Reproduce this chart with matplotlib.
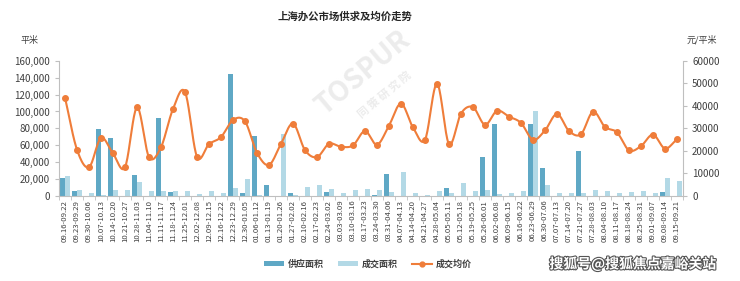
import numpy as np
import matplotlib
matplotlib.use("Agg")
import matplotlib.pyplot as plt
import matplotlib.patheffects as pe
from matplotlib.ticker import FuncFormatter, FixedLocator
from matplotlib.lines import Line2D
from matplotlib.patches import Patch

plt.rcParams['font.family'] = ['Noto Sans CJK SC', 'DejaVu Sans']

# ── Data ─────────────────────────────────────────────────────
weeks = [
    "09.16-09.22", "09.23-09.29", "09.30-10.06", "10.07-10.13", "10.14-10.20",
    "10.21-10.27", "10.28-11.03", "11.04-11.10", "11.11-11.17", "11.18-11.24",
    "11.25-12.01", "12.02-12.08", "12.09-12.15", "12.16-12.22", "12.23-12.29",
    "12.30-01.05", "01.06-01.12", "01.13-01.19", "01.20-01.26", "01.27-02.02",
    "02.10-02.16", "02.17-02.23", "02.24-03.02", "03.03-03.09", "03.10-03.16",
    "03.17-03.23", "03.24-03.30", "03.31-04.06", "04.07-04.13", "04.14-04.20",
    "04.21-04.27", "04.28-05.04", "05.05-05.11", "05.12-05.18", "05.19-05.25",
    "05.26-06.01", "06.02-06.08", "06.09-06.15", "06.16-06.22", "06.23-06.29",
    "06.30-07.06", "07.07-07.13", "07.14-07.20", "07.21-07.27", "07.28-08.03",
    "08.04-08.10", "08.11-08.17", "08.18-08.24", "08.25-08.31", "09.01-09.07",
    "09.08-09.14", "09.15-09.21",
]
supply = [
    20800, 5000, 0, 79000, 69000, 0, 24200, 0, 92000, 4200,
    0, 0, 0, 0, 144500, 3500, 71000, 12400, 0, 2800,
    0, 0, 4400, 0, 0, 0, 1000, 25900, 0, 0,
    0, 0, 9200, 0, 0, 45800, 85500, 0, 0, 84800,
    33000, 0, 0, 53300, 0, 0, 0, 0, 0, 0,
    4400, 0,
]
deal = [
    23000, 6500, 3400, 800, 6500, 6500, 15800, 6100, 6100, 5800,
    5000, 1900, 5000, 3000, 9600, 19600, 1000, 0, 73700, 800,
    10700, 13000, 8000, 2800, 7200, 8400, 7200, 4400, 28300, 3600,
    1000, 5000, 2900, 15500, 6000, 6800, 1500, 2600, 6000, 100700,
    12300, 3200, 3500, 3500, 7000, 5500, 3000, 4400, 6000, 3600,
    21500, 17900,
]
price = [
    43700, 20500, 12700, 25700, 18800, 12700, 39300, 17200, 21600, 38600,
    46200, 17400, 23000, 26100, 33700, 33100, 19100, 13700, 23100, 32100,
    20300, 17200, 23100, 21800, 22400, 28800, 22700, 31200, 41000, 30400,
    24900, 49900, 23000, 36600, 39400, 31600, 37800, 35200, 32400, 24900,
    29100, 36400, 28800, 27400, 37400, 30600, 28200, 20200, 22100, 27200,
    21000, 25200,
]

c_supply = "#5fa8c5"
c_deal = "#b3d9e6"
c_price = "#ef7d3a"
c_axis = "#bfbfbf"
c_text = "#404040"


def catmull_rom(x, y, n=20):
    """Smooth curve through the points (like Excel's smoothed line)."""
    x = np.asarray(x, float)
    y = np.asarray(y, float)
    px = np.concatenate([[2 * x[0] - x[1]], x, [2 * x[-1] - x[-2]]])
    py = np.concatenate([[2 * y[0] - y[1]], y, [2 * y[-1] - y[-2]]])
    t = np.linspace(0, 1, n, endpoint=False)
    xs, ys = [], []
    for i in range(1, len(px) - 2):
        for arr, out in ((px, xs), (py, ys)):
            p0, p1, p2, p3 = arr[i - 1], arr[i], arr[i + 1], arr[i + 2]
            out.append(0.5 * ((2 * p1) + (-p0 + p2) * t
                              + (2 * p0 - 5 * p1 + 4 * p2 - p3) * t ** 2
                              + (-p0 + 3 * p1 - 3 * p2 + p3) * t ** 3))
    xs.append([x[-1]])
    ys.append([y[-1]])
    return np.concatenate(xs), np.concatenate(ys)


# ── Figure ───────────────────────────────────────────────────
fig = plt.figure(figsize=(7.4, 2.81), dpi=100)
ax = fig.add_axes([0.0797, 0.3036, 0.8433, 0.4794])
ax2 = ax.twinx()

x = np.arange(len(weeks))
w = 0.38
ax.bar(x - w / 2, supply, width=w, color=c_supply, zorder=2)
ax.bar(x + w / 2, deal, width=w, color=c_deal, zorder=2)

sx, sy = catmull_rom(x, price)
ax2.plot(sx, sy, color=c_price, lw=1.5, zorder=3, solid_capstyle="round")
ax2.plot(x, price, "o", color=c_price, ms=4, zorder=4)

ax.set_xlim(-0.5, len(weeks) - 0.5)
ax.set_ylim(0, 160000)
ax2.set_ylim(0, 60000)
ax.set_yticks(np.arange(0, 160001, 20000))
ax.yaxis.set_major_formatter(FuncFormatter(lambda v, p: "{:,}".format(int(v))))
ax2.set_yticks(np.arange(0, 60001, 10000))

ax.set_xticks(x)
ax.set_xticklabels(weeks, rotation=90, fontsize=5.6, color=c_text)
ax.xaxis.set_minor_locator(FixedLocator(np.arange(-0.5, len(weeks), 1)))
ax.tick_params(axis="x", which="major", length=0, pad=3)
ax.tick_params(axis="x", which="minor", length=3, color=c_axis)
ax.tick_params(axis="y", labelsize=7, colors=c_text, length=3, color=c_axis)
ax2.tick_params(axis="y", labelsize=7, colors=c_text, length=3, color=c_axis)

for a in (ax, ax2):
    a.spines["top"].set_visible(False)
    for s in ("left", "right", "bottom"):
        a.spines[s].set_color(c_axis)
        a.spines[s].set_linewidth(0.8)
ax.spines["right"].set_visible(False)
ax2.spines["left"].set_visible(False)
ax2.spines["bottom"].set_visible(False)

# ── Texts ────────────────────────────────────────────────────
fig.text(0.466, 0.94, "上海办公市场供求及均价走势", ha="center", va="center",
         fontsize=7.5, fontweight="bold", color="#262626")
fig.text(0.04, 0.857, "平米", ha="center", va="center", fontsize=6.5, color=c_text)
fig.text(0.948, 0.857, "元/平米", ha="center", va="center", fontsize=6.5, color=c_text)

# faint watermark
fig.text(0.49, 0.74, "TOSPUR", rotation=40, ha="center", va="center",
         fontsize=20, fontweight="bold", color="#ececec", zorder=0)
fig.text(0.52, 0.66, "同 策 研 究 院", rotation=40, ha="center", va="center",
         fontsize=8, fontweight="bold", color="#ececec", zorder=0)

# ── Legend ───────────────────────────────────────────────────
handles = [
    Patch(facecolor=c_supply, edgecolor="none"),
    Patch(facecolor=c_deal, edgecolor="none"),
    Line2D([0], [0], color=c_price, lw=1.5, marker="o", ms=3.5),
]
leg = fig.legend(handles, ["供应面积", "成交面积", "成交均价"], loc="center",
                 bbox_to_anchor=(0.497, 0.06), ncol=3, frameon=False,
                 fontsize=6.5, handlelength=2.2, handleheight=0.5,
                 columnspacing=1.6, handletextpad=0.4)
for t in leg.get_texts():
    t.set_color(c_text)
    t.set_fontweight("bold")

fig.text(0.855, 0.06, "搜狐号@搜狐焦点嘉峪关站", ha="center", va="center",
         fontsize=10, color="white", fontweight="bold",
         path_effects=[pe.withStroke(linewidth=1.6, foreground="#555555")])

fig.savefig("out.png", dpi=100, facecolor="white")
